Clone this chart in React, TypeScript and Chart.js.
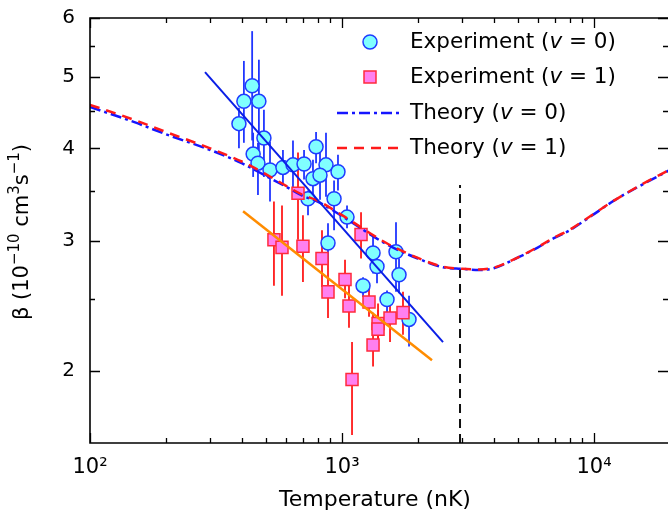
import { useEffect, useRef } from "react";
import { Chart, registerables } from "chart.js";

Chart.register(...registerables);

const FONT = '"DejaVu Sans", Verdana, sans-serif';

// Experiment v = 0 (temperature nK, beta, error bar low/high)
const T_V0 = [390, 408, 440, 468, 490, 444, 464, 518, 583, 639, 707, 789, 864, 767, 818, 964, 733, 930, 1047, 880, 1328, 1638, 1377, 1684, 1212, 1509, 1845];
const BETA_V0 = [4.32, 4.63, 4.86, 4.63, 4.13, 3.93, 3.82, 3.74, 3.77, 3.8, 3.81, 4.02, 3.8, 3.64, 3.68, 3.72, 3.42, 3.42, 3.23, 2.98, 2.89, 2.9, 2.77, 2.7, 2.61, 2.5, 2.35];
const HI_V0 = [4.54, 5.25, 5.76, 5.27, 4.51, 4.2, 4.07, 4.08, 3.98, 4.1, 3.98, 4.21, 4.2, 3.86, 3.98, 3.92, 3.51, 3.62, 3.35, 3.17, 3.04, 3.18, 2.87, 2.84, 2.68, 2.57, 2.53];
const LO_V0 = [4.0, 4.07, 4.1, 3.98, 3.66, 3.66, 3.46, 3.39, 3.57, 3.48, 3.63, 3.82, 3.44, 3.44, 3.41, 3.51, 3.25, 3.1, 3.12, 2.8, 2.71, 2.56, 2.63, 2.55, 2.52, 2.36, 2.16];

// Experiment v = 1
const T_V1 = [669, 537, 578, 700, 833, 880, 1028, 1066, 1190, 1280, 1390, 1390, 1328, 1551, 1746, 1096];
const BETA_V1 = [3.48, 3.01, 2.94, 2.95, 2.84, 2.56, 2.66, 2.45, 3.06, 2.48, 2.32, 2.28, 2.17, 2.36, 2.4, 1.95];
const HI_V1 = [3.95, 3.39, 3.35, 3.25, 3.1, 2.83, 2.83, 2.61, 3.28, 2.61, 2.47, 2.42, 2.4, 2.51, 2.56, 2.19];
const LO_V1 = [3.01, 2.61, 2.53, 2.64, 2.6, 2.36, 2.51, 2.29, 2.84, 2.37, 2.21, 2.17, 2.03, 2.19, 2.24, 1.64];

// Theory curves
const T_THEORY = [100, 150, 200, 300, 400, 500, 600, 700, 800, 1000, 1500, 2000, 2500, 3000, 3500, 4000, 5000, 6000, 7000, 8000, 10000, 12000, 15000, 20000];
const THEORY_V0 = [4.55, 4.34, 4.18, 3.98, 3.82, 3.67, 3.55, 3.45, 3.39, 3.24, 2.97, 2.84, 2.765, 2.75, 2.74, 2.755, 2.85, 2.94, 3.03, 3.1, 3.26, 3.4, 3.55, 3.74];
const THEORY_V1 = [4.58, 4.37, 4.21, 4.0, 3.84, 3.69, 3.56, 3.46, 3.4, 3.25, 2.98, 2.845, 2.77, 2.75, 2.745, 2.76, 2.85, 2.945, 3.035, 3.105, 3.265, 3.4, 3.555, 3.745];

// Power-law fit lines
const FIT_V0_T = [286, 2517];
const FIT_V0_B = [5.07, 2.19];
const FIT_V1_T = [405, 2276];
const FIT_V1_B = [3.29, 2.07];

// Vertical dashed marker
const VLINE_T = [2940, 2940];
const VLINE_B = [1.6, 3.57];

// Axes
const X_MIN = 100;
const X_MAX = 19665;
const Y_MIN = 1.6;
const Y_MAX = 6;
const X_MAJOR = [100, 1000, 10000];
const X_LABELS = ["10²", "10³", "10⁴"];
const X_MINOR = [200, 300, 400, 500, 600, 700, 800, 900, 2000, 3000, 4000, 5000, 6000, 7000, 8000, 9000];
const Y_MAJOR = [2, 3, 4, 5, 6];
const Y_MINOR = [2.5, 3.5, 4.5, 5.5];

const LEGEND_LABELS = ["Experiment (", "Experiment (", "Theory (", "Theory ("];
const LEGEND_VALUES = ["0", "1", "0", "1"];

type Part = { t: string; italic?: boolean; sup?: boolean };

function richWidth(ctx: CanvasRenderingContext2D, parts: Part[], size: number, supSize: number) {
  let w = 0;
  for (const p of parts) {
    ctx.font = `${p.italic ? "italic " : ""}${p.sup ? supSize : size}px ${FONT}`;
    w += ctx.measureText(p.t).width;
  }
  return w;
}

function drawRich(ctx: CanvasRenderingContext2D, x: number, y: number, parts: Part[], size: number, supSize: number, supRaise: number) {
  let cx = x;
  ctx.textBaseline = "middle";
  ctx.textAlign = "left";
  for (const p of parts) {
    ctx.font = `${p.italic ? "italic " : ""}${p.sup ? supSize : size}px ${FONT}`;
    ctx.fillText(p.t, cx, p.sup ? y - supRaise : y);
    cx += ctx.measureText(p.t).width;
  }
}

const decorPlugin = {
  id: "decor",
  beforeDatasetsDraw(chart: any) {
    const { ctx, chartArea } = chart;
    const xs = chart.scales.x;
    const ys = chart.scales.y;
    ctx.save();
    ctx.beginPath();
    ctx.rect(chartArea.left, chartArea.top, chartArea.right - chartArea.left, chartArea.bottom - chartArea.top);
    ctx.clip();
    const bars = [
      { t: T_V0, lo: LO_V0, hi: HI_V0, color: "#2036ff" },
      { t: T_V1, lo: LO_V1, hi: HI_V1, color: "#ff1a1a" },
    ];
    for (const b of bars) {
      ctx.strokeStyle = b.color;
      ctx.lineWidth = 1.8;
      for (let i = 0; i < b.t.length; i++) {
        const px = xs.getPixelForValue(b.t[i]);
        ctx.beginPath();
        ctx.moveTo(px, ys.getPixelForValue(b.lo[i]));
        ctx.lineTo(px, ys.getPixelForValue(b.hi[i]));
        ctx.stroke();
      }
    }
    ctx.restore();
  },
  afterDraw(chart: any) {
    const { ctx, chartArea } = chart;
    const { left, right, top, bottom } = chartArea;
    const xs = chart.scales.x;
    const ys = chart.scales.y;
    ctx.save();
    ctx.strokeStyle = "#000";
    ctx.lineWidth = 1.6;
    ctx.beginPath();
    ctx.moveTo(right, top);
    ctx.lineTo(left, top);
    ctx.lineTo(left, bottom);
    ctx.lineTo(right, bottom);
    ctx.stroke();
    ctx.lineWidth = 1.3;
    ctx.beginPath();
    for (const v of [...X_MAJOR, ...X_MINOR]) {
      const len = X_MAJOR.includes(v) ? 10 : 5;
      const px = Math.round(xs.getPixelForValue(v)) + 0.5;
      ctx.moveTo(px, bottom);
      ctx.lineTo(px, bottom - len);
      ctx.moveTo(px, top);
      ctx.lineTo(px, top + len);
    }
    for (const v of [...Y_MAJOR, ...Y_MINOR]) {
      const len = Y_MAJOR.includes(v) ? 10 : 5;
      const py = Math.round(ys.getPixelForValue(v)) + 0.5;
      ctx.moveTo(left, py);
      ctx.lineTo(left + len, py);
      ctx.moveTo(right, py);
      ctx.lineTo(right - len, py);
    }
    ctx.stroke();

    ctx.fillStyle = "#000";
    // x title
    ctx.font = `22px ${FONT}`;
    ctx.textAlign = "center";
    ctx.textBaseline = "middle";
    ctx.fillText("Temperature (nK)", 375, 500);

    // y title
    const yParts: Part[] = [
      { t: "β (10" },
      { t: "−10", sup: true },
      { t: " cm" },
      { t: "3", sup: true },
      { t: "s" },
      { t: "−1", sup: true },
      { t: ")" },
    ];
    ctx.save();
    ctx.translate(23, 232);
    ctx.rotate(-Math.PI / 2);
    const w = richWidth(ctx, yParts, 21, 15);
    drawRich(ctx, -w / 2, 0, yParts, 21, 15, 8);
    ctx.restore();

    // legend
    const rows = [42, 77, 113, 148];
    ctx.fillStyle = "#80ffff";
    ctx.strokeStyle = "#1f3cff";
    ctx.lineWidth = 1.5;
    ctx.beginPath();
    ctx.arc(370, rows[0], 7, 0, Math.PI * 2);
    ctx.fill();
    ctx.stroke();
    ctx.fillStyle = "#ff80f0";
    ctx.strokeStyle = "#ff2a3c";
    ctx.fillRect(364, rows[1] - 6, 12, 12);
    ctx.strokeRect(364, rows[1] - 6, 12, 12);
    ctx.lineWidth = 2.5;
    ctx.strokeStyle = "#1515ff";
    ctx.setLineDash([11, 4, 3, 4]);
    ctx.beginPath();
    ctx.moveTo(337, rows[2]);
    ctx.lineTo(403, rows[2]);
    ctx.stroke();
    ctx.strokeStyle = "#ff1a1a";
    ctx.setLineDash([10, 7]);
    ctx.beginPath();
    ctx.moveTo(337, rows[3]);
    ctx.lineTo(403, rows[3]);
    ctx.stroke();
    ctx.setLineDash([]);
    ctx.fillStyle = "#000";
    for (let i = 0; i < 4; i++) {
      drawRich(
        ctx,
        410,
        rows[i],
        [{ t: LEGEND_LABELS[i] }, { t: "v", italic: true }, { t: " = " + LEGEND_VALUES[i] + ")" }],
        21.5,
        15,
        0
      );
    }
    ctx.restore();
  },
};

function pts(xs: number[], ys: number[]) {
  return xs.map((x, i) => ({ x, y: ys[i] }));
}

function noPad(s: any) {
  s.paddingTop = 0;
  s.paddingBottom = 0;
  s.paddingLeft = 0;
  s.paddingRight = 0;
}

export default function App() {
  const ref = useRef<HTMLCanvasElement>(null);
  useEffect(() => {
    if (!ref.current) return;
    const chart = new Chart(ref.current, {
      type: "scatter",
      data: {
        datasets: [
          {
            label: "Fit v=0",
            data: pts(FIT_V0_T, FIT_V0_B),
            showLine: true,
            borderColor: "#0a1ee6",
            borderWidth: 2,
            pointRadius: 0,
            order: 0,
          } as any,
          {
            label: "Fit v=1",
            data: pts(FIT_V1_T, FIT_V1_B),
            showLine: true,
            borderColor: "#ff8c00",
            borderWidth: 2.5,
            pointRadius: 0,
            order: 0,
          },
          {
            label: "Theory (v = 1)",
            data: pts(T_THEORY, THEORY_V1),
            showLine: true,
            borderColor: "#ff1a1a",
            borderWidth: 2.5,
            borderDash: [10, 7],
            pointRadius: 0,
            cubicInterpolationMode: "monotone",
            order: 0.5,
          },
          {
            label: "Theory (v = 0)",
            data: pts(T_THEORY, THEORY_V0),
            showLine: true,
            borderColor: "#1515ff",
            borderWidth: 2.5,
            borderDash: [11, 4, 3, 4],
            pointRadius: 0,
            cubicInterpolationMode: "monotone",
            order: 0.6,
          },
          {
            label: "Marker",
            data: pts(VLINE_T, VLINE_B),
            showLine: true,
            borderColor: "#111",
            borderWidth: 2,
            borderDash: [9, 6],
            pointRadius: 0,
            order: 0.7,
          },
          {
            label: "Experiment (v = 1)",
            data: pts(T_V1, BETA_V1),
            pointStyle: "rect",
            pointRadius: 8.5,
            backgroundColor: "#ff80f0",
            borderColor: "#ff2a3c",
            borderWidth: 1.5,
            order: 1,
          },
          {
            label: "Experiment (v = 0)",
            data: pts(T_V0, BETA_V0),
            pointStyle: "circle",
            pointRadius: 7,
            backgroundColor: "#80ffff",
            borderColor: "#1f3cff",
            borderWidth: 1.5,
            order: 2,
          },
        ],
      },
      options: {
        animation: false,
        responsive: false,
        devicePixelRatio: 1,
        layout: { autoPadding: false, padding: { top: 18, right: 0, left: 0, bottom: 0 } },
        plugins: { legend: { display: false }, tooltip: { enabled: false } },
        scales: {
          x: {
            type: "logarithmic",
            min: X_MIN,
            max: X_MAX,
            grid: { display: false, drawTicks: false },
            border: { display: false },
            ticks: {
              autoSkip: false,
              maxRotation: 0,
              padding: 12,
              color: "#000",
              font: { family: FONT, size: 21 },
              callback: (v: any) => {
                const i = X_MAJOR.indexOf(Number(v));
                return i >= 0 ? X_LABELS[i] : "";
              },
            },
            afterBuildTicks: (s: any) => {
              s.ticks = [...X_MAJOR, ...X_MINOR].sort((a, b) => a - b).map((value) => ({ value }));
            },
            afterFit: (s: any) => {
              s.height = 73;
              noPad(s);
            },
          },
          y: {
            type: "logarithmic",
            min: Y_MIN,
            max: Y_MAX,
            grid: { display: false, drawTicks: false },
            border: { display: false },
            ticks: {
              autoSkip: false,
              padding: 15,
              color: "#000",
              font: { family: FONT, size: 20 },
              callback: (v: any) => (Y_MAJOR.includes(Number(v)) ? String(v) : ""),
            },
            afterBuildTicks: (s: any) => {
              s.ticks = [...Y_MAJOR, ...Y_MINOR].sort((a, b) => a - b).map((value) => ({ value }));
            },
            afterFit: (s: any) => {
              s.width = 90;
              noPad(s);
            },
          },
        },
      },
      plugins: [decorPlugin],
    });
    return () => chart.destroy();
  }, []);
  return (
    <div style={{ position: "absolute", left: 0, top: 0, width: 668, height: 516, background: "#fff" }}>
      <canvas ref={ref} width={668} height={516} />
    </div>
  );
}
